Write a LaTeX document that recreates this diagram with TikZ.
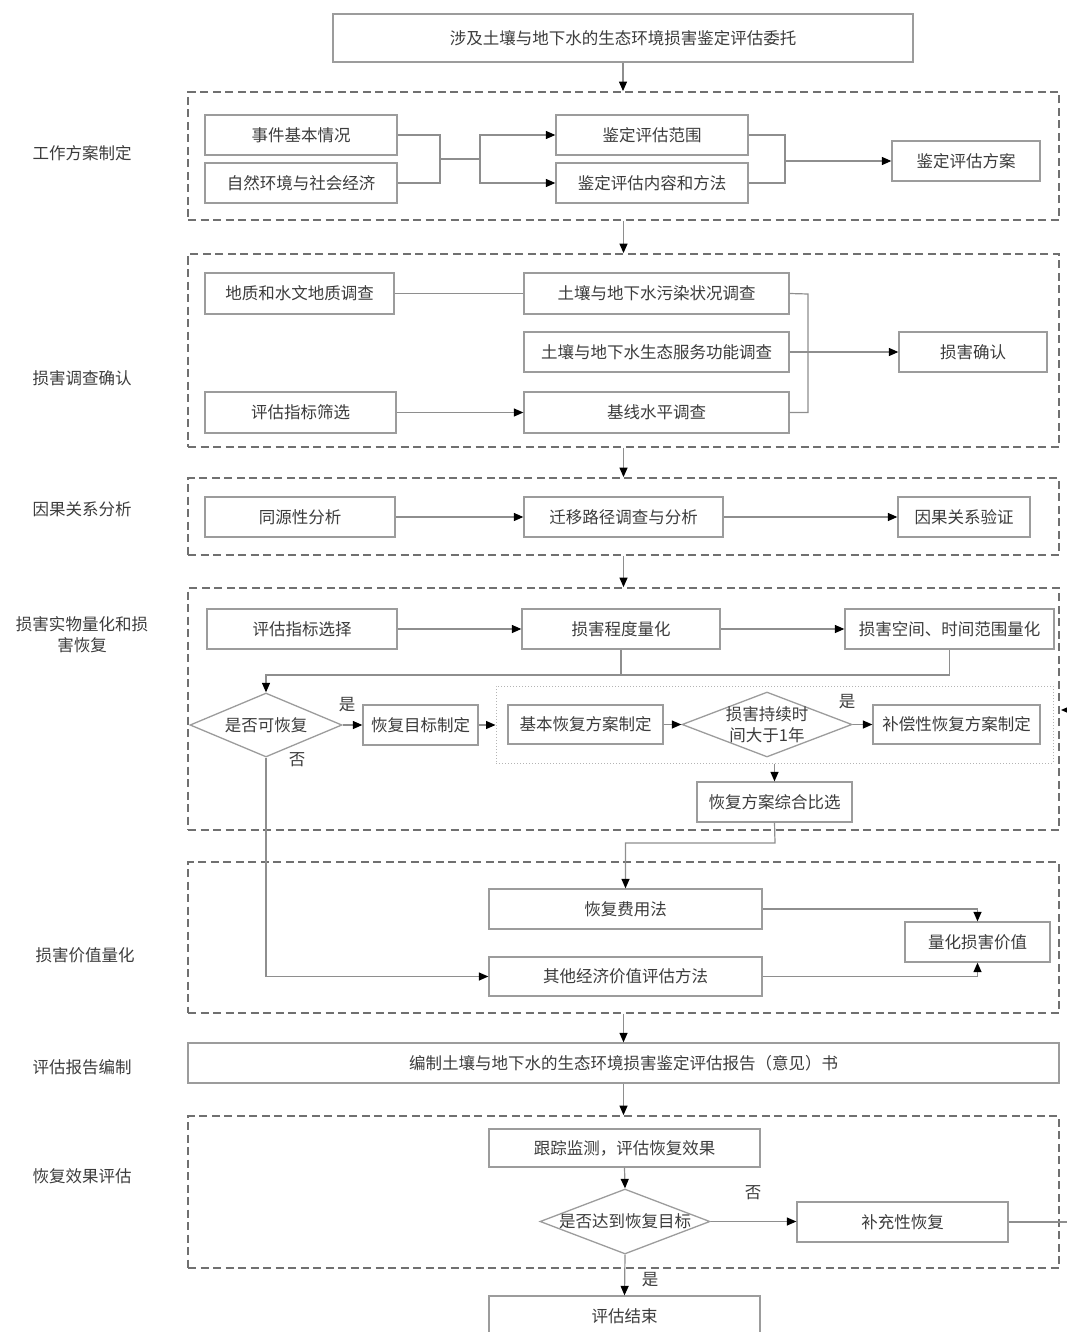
\documentclass[tikz,border=0pt]{standalone}
\usepackage{fontspec}
\newfontfamily\cjk{Noto Sans CJK SC}
\usetikzlibrary{arrows.meta,shapes.geometric,fit}
\definecolor{bd}{HTML}{9C9C9C}
\definecolor{ln}{HTML}{8E8E8E}
\definecolor{tx}{HTML}{3C3C3C}
\definecolor{dsh}{HTML}{707070}
\definecolor{dot}{HTML}{B4B4B4}
\begin{document}
\begin{tikzpicture}[x=1pt,y=-1pt,
  txt/.style={text=tx,font=\cjk\fontsize{16.5}{21}\selectfont},
  corners/.style args={#1/#2/#3/#4}{at={({(#1+#3)/2},{(#2+#4)/2})},minimum width={(#3-#1)*1pt},minimum height={(#4-#2)*1pt}},
  box/.style={draw=bd,line width=1.3pt,fill=white,inner sep=0pt,txt},
  dia/.style={diamond,draw=bd,line width=1.3pt,fill=white,inner sep=0pt},
  sect/.style={draw=dsh,line width=1.8pt,dash pattern=on 8pt off 4.5pt,inner sep=0pt},
  innerbox/.style={draw=dot,line width=1pt,dotted,inner sep=0pt},
  lbl/.style={txt,align=center},
  yn/.style={txt,inner sep=0pt},
  line/.style={draw=ln,line width=1.2pt},
  arr/.style={line,-{Triangle[length=9.5pt,width=8pt,color=black]}}
]
\useasboundingbox (0,0) rectangle (1067,1332);

% section frames
\node[sect,corners=188/92/1059/220] (sec1) {};
\node[sect,corners=188/254/1059/447] (sec2) {};
\node[sect,corners=188/478/1059/555] (sec3) {};
\node[sect,corners=188/588/1059/830] (sec4) {};
\node[sect,corners=188/862/1059/1013] (sec5) {};
\node[sect,corners=188/1116/1059/1268] (sec6) {};
\node[innerbox,corners=496/686/1053/763] (inbox) {};

% section labels
\node[lbl] (l1) at (82,153) {工作方案制定};
\node[lbl] (l2) at (82,378) {损害调查确认};
\node[lbl] (l3) at (82,509) {因果关系分析};
\node[lbl] (l4) at (82,635) {损害实物量化和损\\害恢复};
\node[lbl] (l5) at (85,955) {损害价值量化};
\node[lbl] (l6) at (82,1067) {评估报告编制};
\node[lbl] (l7) at (82,1176) {恢复效果评估};

% title
\node[box,corners=333/14/913/62] (title) {涉及土壤与地下水的生态环境损害鉴定评估委托};

% section 1
\node[box,corners=205/115/397/155] (evt) {事件基本情况};
\node[box,corners=205/163/397/203] (nat) {自然环境与社会经济};
\node[box,corners=556/115/748/155] (scope) {鉴定评估范围};
\node[box,corners=556/163/748/203] (content) {鉴定评估内容和方法};
\node[box,corners=892/141/1040/181] (plan) {鉴定评估方案};

% section 2
\node[box,corners=205/273/394/314] (geo) {地质和水文地质调查};
\node[box,corners=524/273/789/314] (pol) {土壤与地下水污染状况调查};
\node[box,corners=524/332/789/372] (svc) {土壤与地下水生态服务功能调查};
\node[box,corners=899/332/1047/372] (conf) {损害确认};
\node[box,corners=205/392/396/433] (scr) {评估指标筛选};
\node[box,corners=524/392/789/433] (base) {基线水平调查};

% section 3
\node[box,corners=205/497/395/537] (homo) {同源性分析};
\node[box,corners=524/497/723/537] (path) {迁移路径调查与分析};
\node[box,corners=898/497/1030/537] (ver) {因果关系验证};

% section 4
\node[box,corners=207/609/397/649] (sel) {评估指标选择};
\node[box,corners=522/609/720/649] (deg) {损害程度量化};
\node[box,corners=845/609/1054/649] (span) {损害空间、时间范围量化};
\node[dia,corners=190/693/342/757,label={[txt]center:是否可恢复}] (recov) {};
\node[box,corners=363/705/478/745] (goal) {恢复目标制定};
\node[box,corners=508/705/663/744] (basic) {基本恢复方案制定};
\node[dia,corners=682/692/852/757,label={[txt,align=center]center:{损害持续时\\间大于1年}}] (dur) {};
\node[box,corners=873/705/1040/744] (comp) {补偿性恢复方案制定};
\node[box,corners=697/782/852/822] (cmp) {恢复方案综合比选};
\node[yn] (y1) at (347,705) {是};
\node[yn] (n1) at (297,760) {否};
\node[yn] (y2) at (847,702) {是};

% section 5
\node[box,corners=489/889/762/929] (cost) {恢复费用法};
\node[box,corners=489/957/762/996] (other) {其他经济价值评估方法};
\node[box,corners=905/922/1050/962] (val) {量化损害价值};

% report
\node[box,corners=188/1043/1059/1083] (report) {编制土壤与地下水的生态环境损害鉴定评估报告（意见）书};

% section 6
\node[box,corners=489/1129/760/1167] (track) {跟踪监测，评估恢复效果};
\node[dia,corners=540/1189/710/1254,label={[txt]center:是否达到恢复目标}] (reach) {};
\node[box,corners=797/1202/1008/1242] (supp) {补充性恢复};
\node[box,corners=489/1296/760/1336] (fin) {评估结束};
\node[yn] (n2) at (753,1193) {否};
\node[yn] (y3) at (650,1280) {是};

% connectors between sections
\draw[arr] (title.south) -- (title.south |- sec1.north);
\draw[arr] (sec1.south) -- (sec2.north);
\draw[arr] (sec2.south) -- (sec3.north);
\draw[arr] (sec3.south) -- (sec4.north);
\draw[arr] (sec5.south) -- (report.north);
\draw[arr] (report.south) -- (sec6.north);

% section 1 connectors
\coordinate (a1) at (440,159);
\coordinate (a2) at (480,159);
\coordinate (b1) at (785,161);
\draw[line] (evt.east) -| (a1) |- (nat.east);
\draw[line] (a1) -- (a2);
\draw[arr] (a2) |- (scope.west);
\draw[arr] (a2) |- (content.west);
\draw[line] (scope.east) -| (b1) |- (content.east);
\draw[arr] (b1) -- (b1 -| plan.west);

% section 2 connectors
\coordinate (c1) at (808,294);
\draw[line] (geo.east) -- (geo.east -| pol.west);
\draw[arr] (scr.east) -- (base.west);
\draw[line] (pol.east) -- (c1) |- (base.east);
\draw[arr] (svc.east) -- (svc.east -| conf.west);

% section 3 connectors
\draw[arr] (homo.east) -- (path.west);
\draw[arr] (path.east) -- (ver.west);

% section 4 connectors
\coordinate (j1) at (266,675);
\draw[arr] (sel.east) -- (deg.west);
\draw[arr] (deg.east) -- (span.west);
\draw[line] (deg.south) -- (deg.south |- j1);
\draw[arr] (span.south) |- (j1) -- (recov.north);
\draw[arr] (recov.east) -- (recov.east -| goal.west);
\draw[arr] (goal.east) -- (goal.east -| inbox.west);
\draw[arr] (basic.east) -- (basic.east -| dur.west);
\draw[arr] (dur.east) -- (dur.east -| comp.west);
\draw[arr] (cmp.north |- inbox.south) -- (cmp.north);
\coordinate (k1) at (775,843);
\draw[arr] (cmp.south) -- (k1) -| (cost.north);
\draw[arr] (recov.south) |- (other.west);

% section 5 connectors
\draw[arr] (cost.east) -| (val.north);
\draw[arr] (other.east) -| (val.south);

% section 6 connectors
\coordinate (r1) at (1078,1222);
\coordinate (r2) at (1061,710);
\draw[arr] (track.south) -- (reach.north);
\draw[arr] (reach.east) -- (reach.east -| supp.west);
\draw[arr] (reach.south) -- (fin.north);
\draw[arr] (supp.east) -- (r1) |- (r2);
\end{tikzpicture}
\end{document}
